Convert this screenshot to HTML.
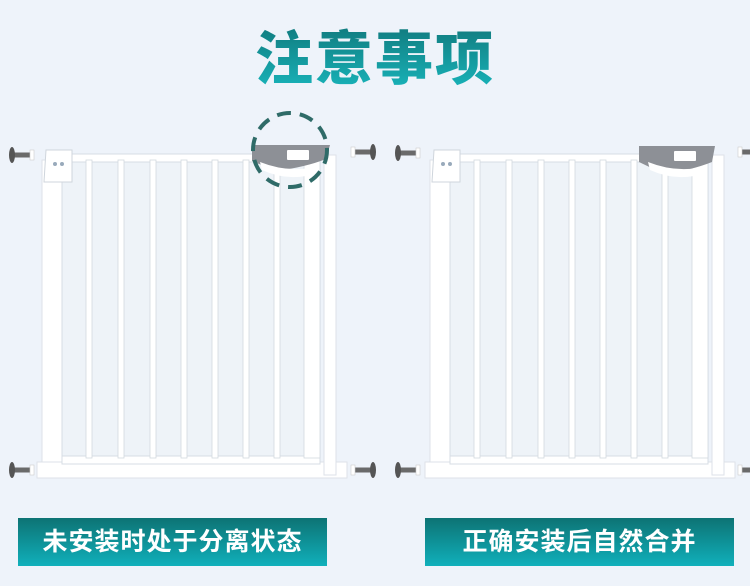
<!DOCTYPE html>
<html><head><meta charset="utf-8"><style>
html,body{margin:0;padding:0;background:#eef3fa;}
body{width:750px;height:586px;overflow:hidden;position:relative;font-family:"Liberation Sans","Noto Sans CJK SC",sans-serif;}
.t{position:absolute;left:0;width:750px;top:12px;text-align:center;font-size:58px;font-weight:900;color:#17a3a8;letter-spacing:2px;
background:linear-gradient(#0f6f72,#19b9bf);-webkit-background-clip:text;background-clip:text;-webkit-text-fill-color:transparent;}
.lb{position:absolute;top:518px;height:48px;width:309px;background:linear-gradient(#0d7374,#10b0bb);color:#fff;font-size:25px;font-weight:bold;text-align:center;line-height:48px;letter-spacing:1px;}
svg{position:absolute;left:0;top:0}
</style></head><body>
<div class="t">注意事项</div>
<svg width="750" height="586">
<defs>
<g id="screw"><rect x="0" y="-2.5" width="18" height="5" fill="#6a6a6a"/><ellipse cx="0" cy="0" rx="3" ry="8" fill="#555"/><rect x="18" y="-5" width="4" height="10" fill="#fff" stroke="#ccc" stroke-width=".6"/></g>
<g id="gate">
<rect x="0" y="160" width="20" height="318" fill="#fff" stroke="#dde2e8"/>
<rect x="-5" y="462" width="310" height="16" fill="#fff" stroke="#dde2e8"/>
<rect x="20" y="154" width="258" height="310" fill="#eef3f8" stroke="#d7dde4"/>
<rect x="20" y="154" width="258" height="8" fill="#fff" stroke="#d7dde4"/>
<rect x="20" y="456" width="258" height="8" fill="#fff" stroke="#d7dde4"/>
<g fill="#fff" stroke="#d3d9e0" stroke-width=".8">
<rect x="44" y="160" width="6" height="298"/><rect x="76" y="160" width="6" height="298"/>
<rect x="108" y="160" width="6" height="298"/><rect x="139" y="160" width="6" height="298"/>
<rect x="170" y="160" width="6" height="298"/><rect x="201" y="160" width="6" height="298"/>
<rect x="232" y="160" width="6" height="298"/><rect x="262" y="160" width="16" height="298"/>
</g>
<rect x="282" y="155" width="12" height="320" fill="#fff" stroke="#dde2e8"/>
<path d="M4 150 h26 v32 h-28 z" fill="#fff" stroke="#cfd5dc"/>
<circle cx="13" cy="164" r="2" fill="#9ab"/><circle cx="20" cy="164" r="2" fill="#9ab"/>
</g>
</defs>
<use href="#gate" x="42" y="0"/>
<use href="#screw" x="12" y="155"/><use href="#screw" x="12" y="470"/>
<g transform="translate(373,152) scale(-1,1)"><use href="#screw" x="0" y="0"/></g>
<g transform="translate(373,470) scale(-1,1)"><use href="#screw" x="0" y="0"/></g>
<path d="M252 145 h78 l-4 14 q-20 8 -50 12 l-24 -10 z" fill="#8d9096"/>
<path d="M260 162 q25 10 50 6 l-4 8 q-22 4 -44 -6z" fill="#fff"/>
<rect x="287" y="150" width="22" height="10" fill="#fff" rx="1"/>
<circle cx="290" cy="150" r="37" fill="none" stroke="#2f6b68" stroke-width="4" stroke-dasharray="14 9"/>
<use href="#gate" x="430" y="0"/>
<use href="#screw" x="398" y="153"/><use href="#screw" x="398" y="470"/>
<g transform="translate(760,152) scale(-1,1)"><use href="#screw" x="0" y="0"/></g>
<g transform="translate(760,470) scale(-1,1)"><use href="#screw" x="0" y="0"/></g>
<path d="M639 146 h76 l-3 16 q-20 8 -48 12 l-25 -12 z" fill="#8d9096"/>
<path d="M648 162 q25 10 50 6 l-4 8 q-22 4 -44 -6z" fill="#fff"/>
<rect x="674" y="151" width="22" height="10" fill="#fff" rx="1"/>
</svg>
<div class="lb" style="left:18px">未安装时处于分离状态</div>
<div class="lb" style="left:425px">正确安装后自然合并</div>
</body></html>
